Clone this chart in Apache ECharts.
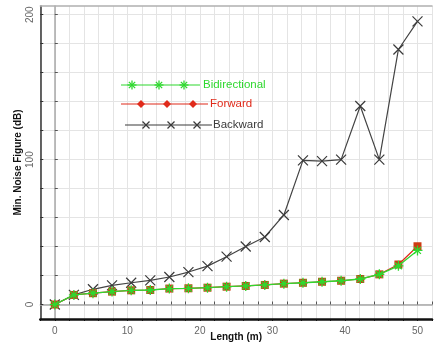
<!DOCTYPE html>
<html>
<head>
<meta charset="utf-8">
<script src="https://cdn.jsdelivr.net/npm/echarts@6/dist/echarts.min.js"></script>
<style>
  html, body { margin: 0; padding: 0; background: #ffffff; }
  #chart { width: 435px; height: 347px; }
</style>
</head>
<body>
<div id="chart"></div>
<script>
// Cable length (m) at each measurement point
const lengths = [0, 2.63, 5.26, 7.89, 10.53, 13.16, 15.79, 18.42, 21.05, 23.68,
                 26.32, 28.95, 31.58, 34.21, 36.84, 39.47, 42.11, 44.74, 47.37, 50];

// Minimum noise figure (dB) per configuration
const bidirectional = [0, 6.6, 7.8, 8.9, 9.8, 10, 11, 11.2, 11.6, 12.3,
                       12.8, 13.5, 14.4, 15, 15.7, 16.4, 17.6, 20.8, 26.7, 37.3];
const forward = [0, 6.6, 7.8, 8.9, 9.8, 10, 11, 11.2, 11.6, 12.3,
                 12.8, 13.5, 14.4, 15, 15.7, 16.4, 17.6, 20.8, 27.6, 40.2];
const backward = [0, 6.6, 10.5, 13.2, 15, 16.7, 19, 22.4, 26.5, 33,
                  40, 46.6, 61.8, 99.5, 99, 100, 137, 100, 176, 195.4];

const seriesNames = ['Bidirectional', 'Forward', 'Backward'];
const xTickLabels = [0, 10, 20, 30, 40, 50];
const yTickLabels = [0, 100, 200];
const yMinorTicks = [0, 20, 40, 60, 80, 100, 120, 140, 160, 180, 200];

const FONT = '"Liberation Sans", Arial, sans-serif';
const GREEN = '#2fd82f';
const RED = '#e02a1a';
const DARK = '#3a3a3a';

const pairs = (ys) => lengths.map((x, i) => [x, ys[i]]);

// Marker shapes
const crossPath = 'path://M0,0L10,10M10,0L0,10';
const starPath = 'path://M5,0L5,10M0,5L10,5M1.6,1.6L8.4,8.4M8.4,1.6L1.6,8.4';

const X_MIN = -2, X_MAX = 52, Y_MIN = -10, Y_MAX = 206;

// Legend samples: a short line with three markers, then the name
function seg(x1, y1, x2, y2, color, w) {
  return { type: 'line', z: 101, shape: { x1: x1, y1: y1, x2: x2, y2: y2 },
           style: { stroke: color, lineWidth: w } };
}
function legendLine(x1, x2, y, color) {
  return seg(x1, y, x2, y, color, 1.2);
}
function crossAt(cx, cy, s, color) {
  return [seg(cx - s, cy - s, cx + s, cy + s, color, 1.2),
          seg(cx + s, cy - s, cx - s, cy + s, color, 1.2)];
}
function starAt(cx, cy, s, color) {
  const d = s * 0.7;
  return [seg(cx, cy - s, cx, cy + s, color, 1.3),
          seg(cx - s, cy, cx + s, cy, color, 1.3),
          seg(cx - d, cy - d, cx + d, cy + d, color, 1.3),
          seg(cx + d, cy - d, cx - d, cy + d, color, 1.3)];
}
function diamondAt(cx, cy, s, color) {
  return { type: 'polygon', z: 101,
    shape: { points: [[cx, cy - s], [cx + s, cy], [cx, cy + s], [cx - s, cy]] },
    style: { fill: color } };
}
function legendText(x, y, text, color) {
  return { type: 'text', x: x, y: y, z: 101,
    style: { text: text, fill: color, font: '11.5px ' + FONT, verticalAlign: 'middle' } };
}

const legendGraphics = [].concat(
  legendLine(121, 200, 85, GREEN),
  starAt(132, 85, 4.5, GREEN), starAt(159, 85, 4.5, GREEN), starAt(184, 85, 4.5, GREEN),
  legendText(203, 85, seriesNames[0], GREEN),
  legendLine(121, 208, 104, RED),
  diamondAt(141, 104, 4, RED), diamondAt(167, 104, 4, RED), diamondAt(193, 104, 4, RED),
  legendText(210, 104, seriesNames[1], RED),
  legendLine(125, 212, 125, DARK),
  crossAt(146, 125, 3.5, DARK), crossAt(171, 125, 3.5, DARK), crossAt(197, 125, 3.5, DARK),
  legendText(213, 125, seriesNames[2], DARK)
);

const chart = echarts.init(document.getElementById('chart'), null, { renderer: 'canvas' });

const axisFont = { color: '#666', fontSize: 10, fontFamily: FONT };

chart.setOption({
  animation: false,
  backgroundColor: '#ffffff',
  grid: { left: 40.3, top: 6, width: 397.7, height: 315.5, containLabel: false },
  xAxis: [
    { // outer bottom axis with labels and vertical grid
      type: 'value', position: 'bottom', min: X_MIN, max: X_MAX, interval: 2,
      axisLine: { onZero: false, lineStyle: { color: '#111', width: 2.5 } },
      axisTick: { show: true, length: 2, lineStyle: { color: '#111' } },
      axisLabel: Object.assign({ margin: 7,
        formatter: (v) => (xTickLabels.indexOf(v) >= 0 ? String(v) : '') }, axisFont),
      splitLine: { show: true, lineStyle: { color: '#e4e4e4', width: 1 } },
      name: 'Length (m)', nameLocation: 'middle', nameGap: 13, nameMoveOverlap: false,
      nameTextStyle: { color: '#111', fontSize: 10, fontWeight: 'bold', fontFamily: FONT }
    },
    { // zero line through y = 0
      type: 'value', position: 'bottom', min: X_MIN, max: X_MAX, interval: 2,
      axisLine: { onZero: true, lineStyle: { color: '#a8a8a8', width: 1.5 } },
      axisTick: { show: true, length: 3, inside: true, lineStyle: { color: '#555' } },
      axisLabel: { show: false }, splitLine: { show: false }
    },
    { // top frame
      type: 'value', position: 'top', min: X_MIN, max: X_MAX, interval: 2,
      axisLine: { onZero: false, lineStyle: { color: '#b0b0b0', width: 1.5 } },
      axisTick: { show: false }, axisLabel: { show: false }, splitLine: { show: false }
    }
  ],
  yAxis: [
    { // outer left axis with labels
      type: 'value', position: 'left', min: Y_MIN, max: Y_MAX, interval: 10,
      axisLine: { onZero: false, lineStyle: { color: '#333', width: 1.5 } },
      axisTick: { show: true, length: 3, inside: true, customValues: yMinorTicks,
                  lineStyle: { color: '#333' } },
      axisLabel: Object.assign({ margin: 5, rotate: 90,
        formatter: (v) => (yTickLabels.indexOf(v) >= 0 ? String(v) : '') }, axisFont),
      splitLine: { show: false },
      name: 'Min. Noise Figure (dB)', nameLocation: 'middle', nameGap: 17,
      nameMoveOverlap: false,
      nameTextStyle: { color: '#111', fontSize: 10, fontWeight: 'bold', fontFamily: FONT }
    },
    { // zero line through x = 0
      type: 'value', position: 'left', min: Y_MIN, max: Y_MAX, interval: 10,
      axisLine: { onZero: true, lineStyle: { color: '#a8a8a8', width: 1.5 } },
      axisTick: { show: true, length: 3, inside: true, customValues: yMinorTicks,
                  lineStyle: { color: '#555' } },
      axisLabel: { show: false }, splitLine: { show: false }
    },
    { // horizontal grid every 20 dB (alternate lines hidden)
      type: 'value', position: 'left', min: Y_MIN, max: Y_MAX, interval: 10,
      axisLine: { show: false, onZero: false }, axisTick: { show: false },
      axisLabel: { show: false },
      splitLine: { show: true, lineStyle: { color: ['rgba(0,0,0,0)', '#e4e4e4'], width: 1 } }
    }
  ],
  graphic: legendGraphics,
  series: [
    {
      name: seriesNames[2], type: 'line', xAxisIndex: 0, yAxisIndex: 0,
      data: pairs(backward), symbol: crossPath, symbolSize: 10,
      lineStyle: { color: '#444', width: 1.2 },
      itemStyle: { color: 'rgba(0,0,0,0)', borderColor: DARK, borderWidth: 1.2 },
      z: 3
    },
    {
      name: seriesNames[1], type: 'line', xAxisIndex: 0, yAxisIndex: 0,
      data: pairs(forward), symbol: 'rect', symbolSize: 8,
      lineStyle: { color: RED, width: 1.2 },
      itemStyle: { color: '#cf3a12' },
      z: 4
    },
    {
      name: seriesNames[0], type: 'line', xAxisIndex: 0, yAxisIndex: 0,
      data: pairs(bidirectional), symbol: starPath, symbolSize: 10,
      lineStyle: { color: GREEN, width: 1.3 },
      itemStyle: { color: 'rgba(0,0,0,0)', borderColor: GREEN, borderWidth: 1.3 },
      z: 5
    }
  ]
});
</script>
</body>
</html>
